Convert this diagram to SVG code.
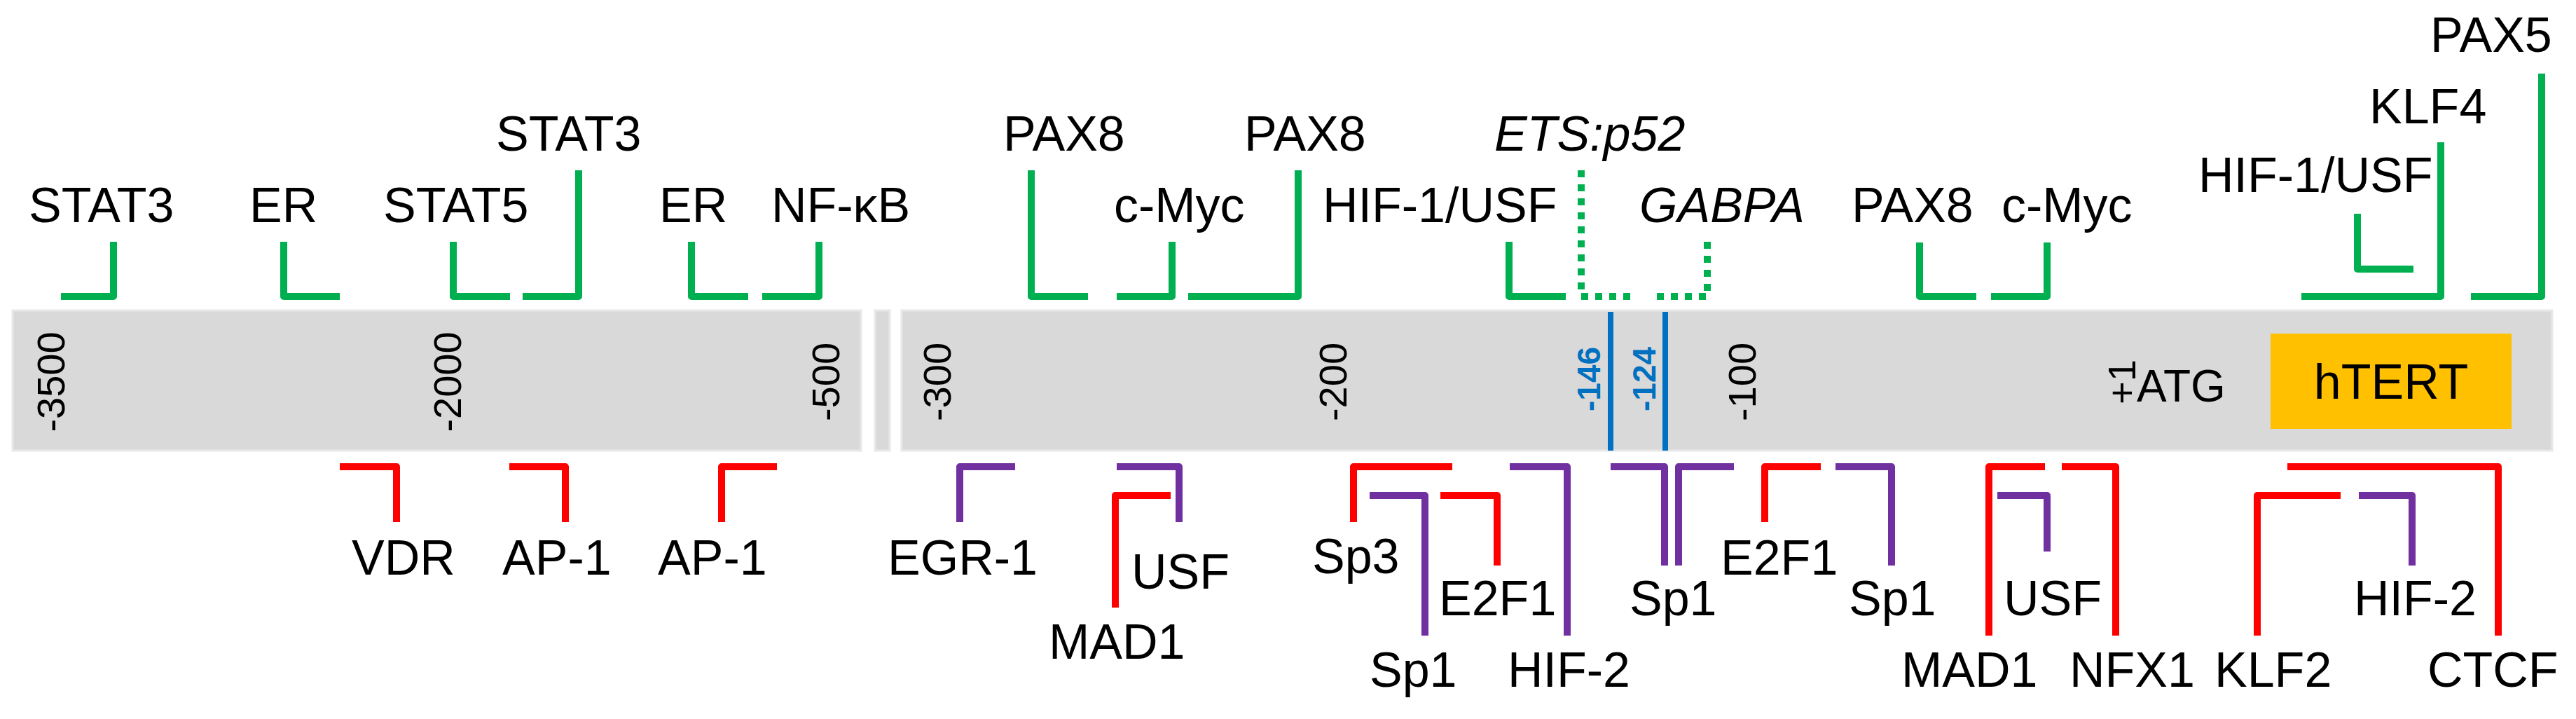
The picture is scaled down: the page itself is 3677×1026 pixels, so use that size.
<svg xmlns="http://www.w3.org/2000/svg" width="3677" height="1026" viewBox="0 0 3677 1026">
<style>
text{font-family:"Liberation Sans",Arial,sans-serif;fill:#000}
.lb{font-size:70px}
.it{font-style:italic}
.tick{font-size:56px;text-anchor:middle}
.pos{font-size:46px;font-weight:bold;fill:#0070C0}
.br{fill:none;stroke-width:10;stroke-linejoin:round;stroke-linecap:butt}
.g{stroke:#00B050}
.r{stroke:#FF0000}
.p{stroke:#7030A0}
.d{stroke-dasharray:10 10}
.bar{fill:#D9D9D9;stroke:#E8E8E8;stroke-width:3}
</style>
<rect width="3677" height="1026" fill="#fff"/>
<g id="promoter">
<rect class="bar" x="18" y="443" width="1211" height="200"/>
<rect class="bar" x="1249" y="443" width="21" height="200"/>
<rect class="bar" x="1287" y="443" width="2356" height="200"/>
<text class="tick" transform="translate(92,545) rotate(-90)">-3500</text>
<text class="tick" transform="translate(658,545) rotate(-90)">-2000</text>
<text class="tick" transform="translate(1198,545) rotate(-90)">-500</text>
<text class="tick" transform="translate(1357,545) rotate(-90)">-300</text>
<text class="tick" transform="translate(1922,545) rotate(-90)">-200</text>
<text class="tick" transform="translate(2506,545) rotate(-90)">-100</text>
<line x1="2299" y1="445" x2="2299" y2="643" stroke="#0070C0" stroke-width="8"/>
<line x1="2377" y1="445" x2="2377" y2="643" stroke="#0070C0" stroke-width="8"/>
<text class="pos" transform="translate(2284,587) rotate(-90)">-146</text>
<text class="pos" transform="translate(2363,587) rotate(-90)">-124</text>
<text style="font-size:56px" transform="translate(3048,577) rotate(-90)">+1</text>
<text style="font-size:64px" x="3050" y="573">ATG</text>
</g>
<g id="hTERT">
<rect x="3241" y="476" width="344" height="136" fill="#FFC000"/>
<text class="lb" x="3413" y="569" text-anchor="middle">hTERT</text>
</g>
<g id="connectors">
<path class="br g" d="M87,423 H162 V345"/>
<path class="br g" d="M405,345 V423 H485"/>
<path class="br g" d="M647,345 V423 H728"/>
<path class="br g" d="M746,423 H826 V243"/>
<path class="br g" d="M987,345 V423 H1068"/>
<path class="br g" d="M1088,423 H1169 V345"/>
<path class="br g" d="M1472,243 V423 H1553"/>
<path class="br g" d="M1594,423 H1673 V345"/>
<path class="br g" d="M1696,423 H1853 V243"/>
<path class="br g" d="M2154,345 V423 H2235"/>
<path class="br g d" d="M2257,243 V423 H2330"/>
<path class="br g d" d="M2437,345 V423 H2355"/>
<path class="br g" d="M2740,346 V423 H2821"/>
<path class="br g" d="M2842,423 H2922 V346"/>
<path class="br g" d="M3365,305 V384 H3445"/>
<path class="br g" d="M3285,423 H3484 V203"/>
<path class="br g" d="M3527,423 H3628 V105"/>
<path class="br r" d="M485,666 H566 V745"/>
<path class="br r" d="M727,666 H807 V745"/>
<path class="br r" d="M1109,666 H1030 V745"/>
<path class="br p" d="M1449,666 H1370 V745"/>
<path class="br p" d="M1594,666 H1683 V745"/>
<path class="br r" d="M1671,707 H1592 V867"/>
<path class="br r" d="M2073,666 H1932 V745"/>
<path class="br p" d="M1955,707 H2034 V907"/>
<path class="br r" d="M2056,707 H2137 V807"/>
<path class="br p" d="M2155,666 H2237 V907"/>
<path class="br p" d="M2299,666 H2376 V807"/>
<path class="br p" d="M2475,666 H2396 V807"/>
<path class="br r" d="M2599,666 H2519 V745"/>
<path class="br p" d="M2620,666 H2700 V807"/>
<path class="br r" d="M2919,666 H2839 V907"/>
<path class="br r" d="M2943,666 H3020 V907"/>
<path class="br p" d="M2851,707 H2922 V787"/>
<path class="br r" d="M3341,707 H3222 V907"/>
<path class="br p" d="M3367,707 H3443 V807"/>
<path class="br r" d="M3265,666 H3566 V907"/>
</g>
<g id="top-factors">
<text class="lb" x="41" y="317">STAT3</text>
<text class="lb" x="356" y="317">ER</text>
<text class="lb" x="547" y="317">STAT5</text>
<text class="lb" x="708" y="215">STAT3</text>
<text class="lb" x="941" y="317">ER</text>
<text class="lb" x="1101" y="317">NF-κB</text>
<text class="lb" x="1432" y="215">PAX8</text>
<text class="lb" x="1590" y="317">c-Myc</text>
<text class="lb" x="1776" y="215">PAX8</text>
<text class="lb" x="1888" y="317">HIF-1/USF</text>
<text class="lb it" x="2133" y="215">ETS:p52</text>
<text class="lb it" x="2340" y="317">GABPA</text>
<text class="lb" x="2643" y="317">PAX8</text>
<text class="lb" x="2857" y="317">c-Myc</text>
<text class="lb" x="3138" y="274">HIF-1/USF</text>
<text class="lb" x="3382" y="176">KLF4</text>
<text class="lb" x="3469" y="74">PAX5</text>
</g>
<g id="bottom-factors">
<text class="lb" x="502" y="820">VDR</text>
<text class="lb" x="717" y="820">AP-1</text>
<text class="lb" x="939" y="820">AP-1</text>
<text class="lb" x="1267" y="820">EGR-1</text>
<text class="lb" x="1615" y="840">USF</text>
<text class="lb" x="1497" y="940">MAD1</text>
<text class="lb" x="1873" y="818">Sp3</text>
<text class="lb" x="2054" y="878">E2F1</text>
<text class="lb" x="1955" y="980">Sp1</text>
<text class="lb" x="2152" y="980">HIF-2</text>
<text class="lb" x="2326" y="878">Sp1</text>
<text class="lb" x="2456" y="820">E2F1</text>
<text class="lb" x="2639" y="878">Sp1</text>
<text class="lb" x="2860" y="878">USF</text>
<text class="lb" x="2714" y="980">MAD1</text>
<text class="lb" x="2954" y="980">NFX1</text>
<text class="lb" x="3161" y="980">KLF2</text>
<text class="lb" x="3360" y="878">HIF-2</text>
<text class="lb" x="3465" y="980">CTCF</text>
</g>
</svg>
